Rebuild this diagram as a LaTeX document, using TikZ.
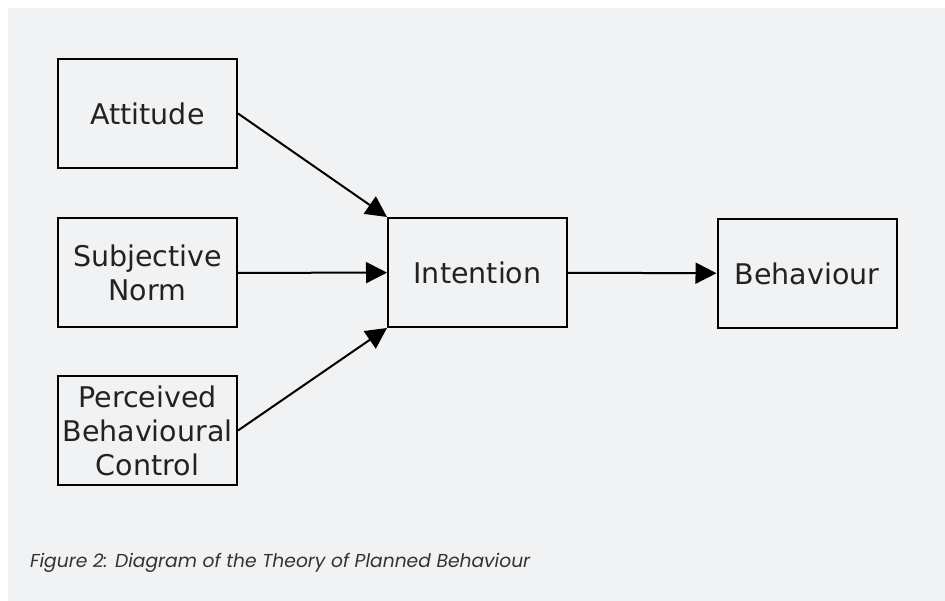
\documentclass[tikz,border=0pt]{standalone}
\usepackage{fontspec}
\setmainfont{DejaVu Sans}
\newfontfamily\capfont{Poppins}
\usepackage{tikz}
\usetikzlibrary{positioning, arrows.meta}
\definecolor{bggray}{HTML}{F1F2F4}
\definecolor{txtgray}{HTML}{222222}
\definecolor{capgray}{HTML}{333333}

\begin{document}
\begin{tikzpicture}[x=1pt, y=1pt, >={Triangle[length=21pt, width=21pt]},
        box/.style={draw, line width=2pt, minimum width=179pt, minimum height=109pt,
            inner sep=0pt, align=center, text=txtgray, font=\fontsize{28.5}{34}\selectfont}]
            \fill[white] (0,0) rectangle (945,-601);
            \fill[bggray] (8,-8) rectangle (945,-601);
            \useasboundingbox (0,0) rectangle (945,-601);

            \node[box] (att) at (147.5, -113.5) {Attitude};
            \node[box] (sn) at (147.5, -273) {Subjective\\Norm};
            \node[box] (pbc) at (147.5, -430.5) {Perceived\\Behavioural\\Control};
            \node[box] (int) at (477.5, -272.5) {Intention};
            \node[box] (beh) at (807, -273.5) {Behaviour};

            \path[->, line width=2pt]
            (att.east) edge (int.north west)
            (sn) edge (int)
            (pbc.east) edge (int.south west)
            (int) edge (beh)
            ;

            \node[anchor=base west, inner sep=0pt, text=capgray,
                font=\capfont\itshape\fontsize{18.7}{22}\selectfont] (cap) at (30, -567)
                {Figure 2: Diagram of the Theory of Planned Behaviour};
        \end{tikzpicture}
\end{document}
